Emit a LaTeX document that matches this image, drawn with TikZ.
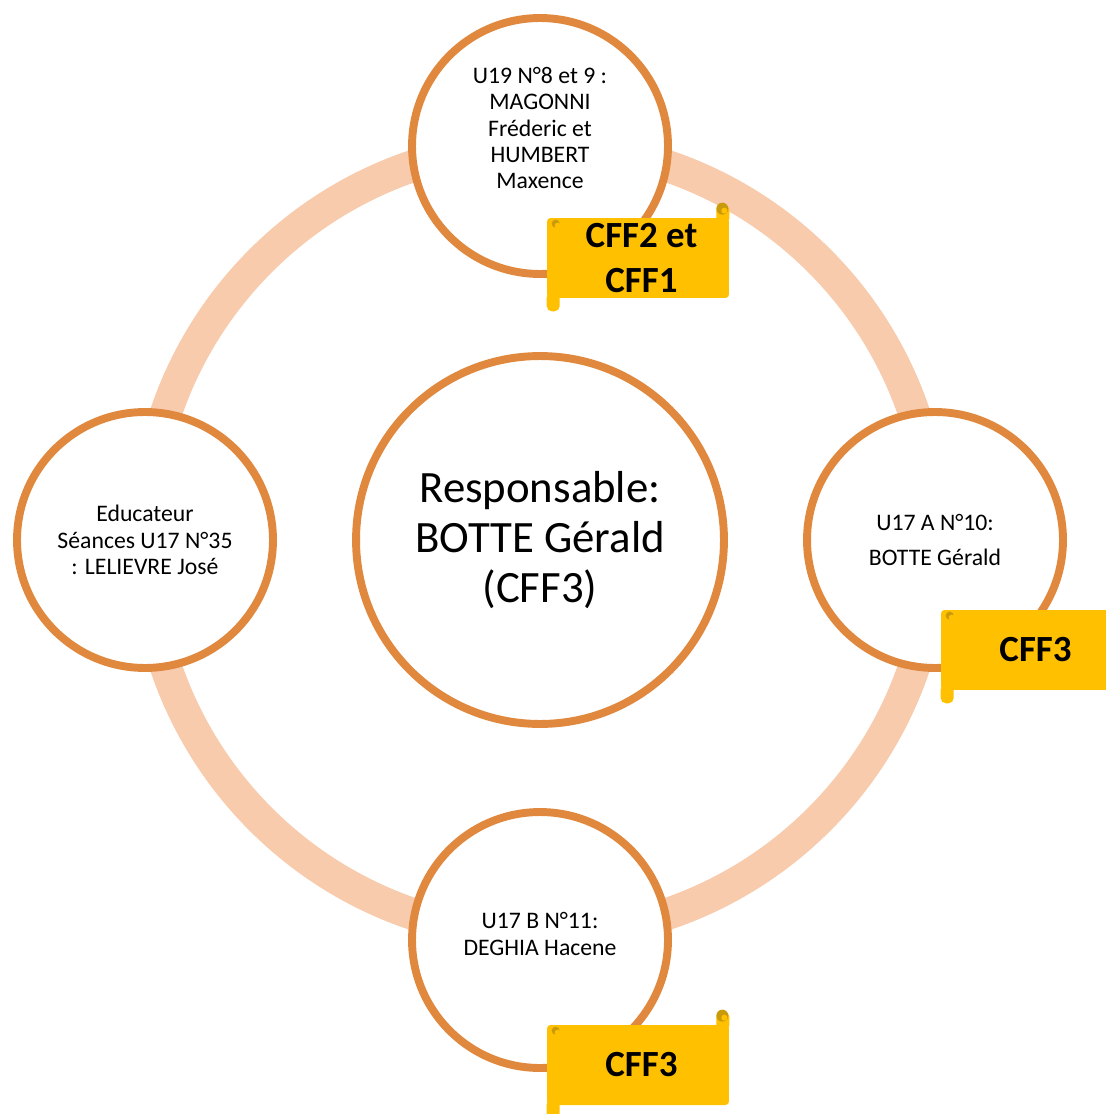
\documentclass[tikz,border=0pt]{standalone}
\usepackage{fontspec}
\setmainfont{Carlito}
\usetikzlibrary{positioning}
\definecolor{ringpeach}{HTML}{F8CBAD}
\definecolor{rimorange}{HTML}{E0883E}
\definecolor{scrollgold}{HTML}{FFC000}
\definecolor{scrolldark}{HTML}{C99A0A}

\begin{document}
\begin{tikzpicture}[x=0.02cm,y=-0.02cm,
    member/.style={circle,draw=rimorange,line width=4.5pt,fill=white,minimum size=5.12cm,inner sep=0pt},
    memtext/.style={align=center,font=\fontsize{13.5}{15}\selectfont},
    scroll/.style={fill=scrollgold,rounded corners=2pt,minimum width=3.64cm,minimum height=1.6cm,inner sep=0pt,align=center,font=\bfseries\fontsize{21}{25.5}\selectfont}]
  \useasboundingbox[fill=white] (0,0) rectangle (1105,1114);
  % the ring behind the circles
  \coordinate (hub) at (540,540);
  \draw[ringpeach,line width=0.64cm] (hub) circle[radius=7.9cm];
  % circles
  \node[member,minimum size=7.36cm] (boss) at (hub) {};
  \node[align=center,font=\fontsize{25.5}{28.5}\selectfont] (bosstext) at (hub) {Responsable:\\BOTTE Gérald\\(CFF3)};
  \node[member] (top) at (540,146) {};
  \node[memtext] (toptext) at (540,128) {U19 N°8 et 9 :\\MAGONNI\\Fréderic et\\HUMBERT\\Maxence};
  \node[member] (left) at (145,540) {};
  \node[memtext] (lefttext) at (145,540) {Educateur\\Séances U17 N°35\\: LELIEVRE José};
  \node[member] (right) at (935,540) {};
  \node[memtext] (righttext) at (935,540) {U17 A N°10:\\[5pt]BOTTE Gérald};
  \node[member] (low) at (540,940) {};
  \node[memtext] (lowtext) at (540,934) {U17 B N°11:\\DEGHIA Hacene};
  % scrolls
  \node[scroll] (topscroll) at (638,258) {\hspace{4pt}CFF2 et\\\hspace{4pt}CFF1};
  \node[scroll] (rightscroll) at (1032,650) {\hspace{4pt}CFF3};
  \node[scroll] (lowscroll) at (638,1065) {\hspace{4pt}CFF3};
  \foreach \s in {topscroll,rightscroll,lowscroll} {
    \fill[scrollgold,rounded corners=3pt] (\s.south west) ++(0,-6) -- ++(0,19) -- ++(13,0) -- ++(0,-19) -- cycle;
    \fill[scrollgold,rounded corners=3pt] (\s.north east) ++(0,6) -- ++(0,-19) -- ++(-13,0) -- ++(0,19) -- cycle;
    \fill[scrolldark] ([shift={(-7,-9)}]\s.north east) circle[radius=6];
    \fill[scrollgold] ([shift={(-5,-7)}]\s.north east) circle[radius=3];
    \fill[scrolldark] ([shift={(9,6)}]\s.north west) circle[radius=4];
    \fill[scrollgold] ([shift={(11,8)}]\s.north west) circle[radius=3];
  }
\end{tikzpicture}
\end{document}
